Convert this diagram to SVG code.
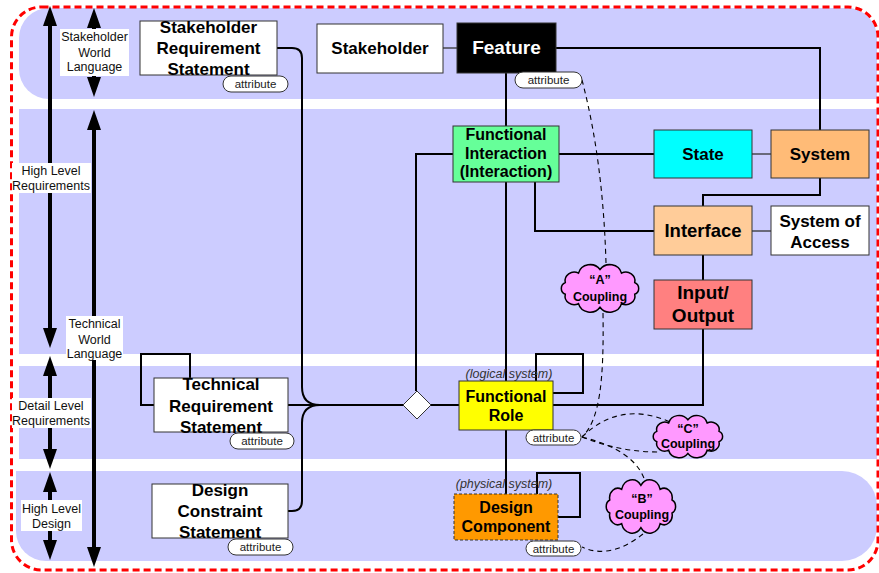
<svg xmlns="http://www.w3.org/2000/svg" xmlns:xlink="http://www.w3.org/1999/xlink" width="879" height="573" viewBox="0 0 879 573">
<style>
.band{fill:#CCCCFF}
.node{stroke:#333;stroke-width:1}
.t{font-family:"Liberation Sans",Arial,sans-serif;font-weight:bold;text-anchor:middle;fill:#000}
.lbl{font-family:"Liberation Sans",Arial,sans-serif;font-size:12.5px;text-anchor:middle;fill:#111}
.lblbox{fill:#fff}
.attr rect{fill:#fff;stroke:#333;stroke-width:1}
.attr text{font-family:"Liberation Sans",Arial,sans-serif;font-size:11.5px;text-anchor:middle;fill:#222}
.conn{fill:none;stroke:#000;stroke-width:2}
.thin{fill:none;stroke:#333;stroke-width:1.3}
.dash{fill:none;stroke:#000;stroke-width:1.1;stroke-dasharray:5 4}
.cloud{fill:#FF99FF;stroke:#000;stroke-width:1.5}
.ct{font-family:"Liberation Sans",Arial,sans-serif;font-weight:bold;font-size:12.5px;text-anchor:middle;fill:#000}
.sys{font-family:"Liberation Sans",Arial,sans-serif;font-style:italic;font-size:12.5px;text-anchor:middle;fill:#333}
.arr{stroke:#000;stroke-width:4;marker-start:url(#ah);marker-end:url(#ah)}
</style>
<defs>
<marker id="ah" viewBox="0 0 20 14" refX="10" refY="7" markerWidth="20" markerHeight="14" markerUnits="userSpaceOnUse" orient="auto-start-reverse"><path d="M0,0 L20,7 L0,14 Z" fill="#000"/></marker>
<path id="cloudp" vector-effect="non-scaling-stroke" d="M89.9,37.1 A10.5,10.5 0 0 1 74.7,48.6 A13.8,13.8 0 0 1 50,53 A13.8,13.8 0 0 1 25.3,48.6 A10.5,10.5 0 0 1 10.1,37.1 A7.8,7.8 0 0 1 10.1,22.9 A10.5,10.5 0 0 1 25.3,11.4 A13.8,13.8 0 0 1 50,7 A13.8,13.8 0 0 1 74.7,11.4 A10.5,10.5 0 0 1 89.9,22.9 A7.8,7.8 0 0 1 89.9,37.1 Z"/>
</defs>
<rect width="879" height="573" fill="#fff"/>
<g id="bands">
<path class="band" d="M49,8 H847 A30,30 0 0 1 877,38 V99 H49 A30,30 0 0 1 19,69 V38 A30,30 0 0 1 49,8 Z"/>
<rect class="band" x="19" y="109" width="858" height="245"/>
<rect class="band" x="19" y="366" width="858" height="93"/>
<path class="band" d="M16,471 H842 A35,35 0 0 1 877,506 V526 A35,35 0 0 1 842,561 H46 A30,30 0 0 1 16,531 Z"/>
</g>
<rect x="11.5" y="7" width="866.5" height="563" rx="30" fill="none" stroke="#FF0000" stroke-width="3" stroke-dasharray="7 4"/>
<g id="scale-arrows">
<line class="arr" x1="50" y1="16" x2="50" y2="338"/>
<line class="arr" x1="50" y1="366" x2="50" y2="459"/>
<line class="arr" x1="50" y1="482" x2="50" y2="550"/>
<line class="arr" x1="94" y1="18" x2="94" y2="87"/>
<line class="arr" x1="94" y1="120" x2="94" y2="557"/>
</g>
<g id="scale-labels">
<rect class="lblbox" x="60" y="29" width="69" height="47"/>
<text class="lbl" x="94.5" y="41">Stakeholder</text>
<text class="lbl" x="94.5" y="56.5">World</text>
<text class="lbl" x="94.5" y="71">Language</text>
<rect class="lblbox" x="12" y="163" width="79" height="30"/>
<text class="lbl" x="51" y="175">High Level</text>
<text class="lbl" x="51" y="190">Requirements</text>
<rect class="lblbox" x="66" y="316" width="57" height="44"/>
<text class="lbl" x="94.5" y="328">Technical</text>
<text class="lbl" x="94.5" y="343.5">World</text>
<text class="lbl" x="94.5" y="358">Language</text>
<rect class="lblbox" x="12" y="398" width="79" height="30"/>
<text class="lbl" x="51" y="409.5">Detail Level</text>
<text class="lbl" x="51" y="424.5">Requirements</text>
<rect class="lblbox" x="21" y="500" width="61" height="31"/>
<text class="lbl" x="51.5" y="513">High Level</text>
<text class="lbl" x="51.5" y="528">Design</text>
</g>
<g id="connectors">
<path class="conn" d="M277,48 H292 Q302,48 302,58 V387 Q302,405 320,405"/>
<path class="conn" d="M288,511 H292 Q302,511 302,501 V423 Q302,405 320,405"/>
<path class="conn" d="M288,405 H403"/>
<path class="conn" d="M431,405 H459"/>
<path class="conn" d="M416,391 V154 H453"/>
<path class="thin" d="M443,48 H457"/>
<path class="conn" d="M556,48 H820 V130"/>
<path class="conn" d="M506,73 V126"/>
<path class="conn" d="M506,182 V381"/>
<path class="conn" d="M506,430 V494"/>
<path class="conn" d="M559,154 H654"/>
<path class="thin" d="M752,154 H771"/>
<path class="conn" d="M820,178 V195 H703 V206"/>
<path class="conn" d="M535,182 V231 H654"/>
<path class="thin" d="M752,231 H771"/>
<path class="conn" d="M703,255 V280"/>
<path class="conn" d="M703,329 V405 H553"/>
<path class="conn" d="M553,393 H583 V354 H536 V381"/>
<path class="conn" d="M558,517 H580 V473 H537 V494"/>
<path class="conn" d="M154,405 H141 V354 H190 V378"/>
<path class="dash" d="M582,80 Q603,160 606,263"/>
<path class="dash" d="M603,313 C604,380 600,420 582,437"/>
<path class="dash" d="M582,437 Q620,400 670,422"/>
<path class="dash" d="M582,437 Q620,452 658,452"/>
<path class="dash" d="M582,437 Q635,450 645,481"/>
<path class="dash" d="M643,534 Q610,560 582,547"/>
</g>
<g id="diamond">
<path d="M417,391 L431,405 L417,419 L403,405 Z" fill="#fff" stroke="#333" stroke-width="1"/>
</g>
<g id="stakeholder-requirement-statement">
<rect class="node" x="140" y="21" width="137" height="54" fill="#fff"/>
<text class="t" x="208.5" y="33" font-size="17">Stakeholder</text>
<text class="t" x="208.5" y="54" font-size="17">Requirement</text>
<text class="t" x="208.5" y="75" font-size="17">Statement</text>
<g class="attr"><rect x="223" y="76" width="65" height="16" rx="8"/><text x="255.5" y="88">attribute</text></g>
</g>
<g id="stakeholder">
<rect class="node" x="317" y="24" width="126" height="49" fill="#fff"/>
<text class="t" x="380" y="54" font-size="17">Stakeholder</text>
</g>
<g id="feature">
<rect class="node" x="457" y="23" width="99" height="50" fill="#000"/>
<text class="t" x="506.5" y="54" font-size="19" style="fill:#fff">Feature</text>
<g class="attr"><rect x="515" y="72" width="67" height="16" rx="8"/><text x="548.5" y="84">attribute</text></g>
</g>
<g id="functional-interaction">
<rect class="node" x="453" y="126" width="106" height="56" fill="#66FF99"/>
<text class="t" x="506" y="140" font-size="16">Functional</text>
<text class="t" x="506" y="159" font-size="16">Interaction</text>
<text class="t" x="506" y="177" font-size="16">(Interaction)</text>
</g>
<g id="state">
<rect class="node" x="654" y="130" width="98" height="48" fill="#00FFFF"/>
<text class="t" x="703" y="160" font-size="17">State</text>
</g>
<g id="system">
<rect class="node" x="771" y="130" width="98" height="48" fill="#FFBB77"/>
<text class="t" x="820" y="160" font-size="17">System</text>
</g>
<g id="interface">
<rect class="node" x="654" y="206" width="98" height="49" fill="#FFCC99"/>
<text class="t" x="703" y="237" font-size="18.5">Interface</text>
</g>
<g id="system-of-access">
<rect class="node" x="771" y="206" width="98" height="49" fill="#fff"/>
<text class="t" x="820" y="227" font-size="17">System of</text>
<text class="t" x="820" y="248" font-size="17">Access</text>
</g>
<g id="input-output">
<rect class="node" x="654" y="280" width="98" height="49" fill="#FF8080"/>
<text class="t" x="703" y="299" font-size="19">Input/</text>
<text class="t" x="703" y="322" font-size="19">Output</text>
</g>
<g id="functional-role">
<text class="sys" x="509" y="378">(logical system)</text>
<rect class="node" x="459" y="381" width="94" height="49" fill="#FFFF00"/>
<text class="t" x="506" y="402" font-size="16">Functional</text>
<text class="t" x="506" y="421" font-size="16">Role</text>
<g class="attr"><rect x="526" y="430" width="55" height="15" rx="7.5"/><text x="553.5" y="441.5">attribute</text></g>
</g>
<g id="design-component">
<text class="sys" x="504" y="488">(physical system)</text>
<rect class="node" x="454" y="494" width="104" height="46" fill="#FF9900" stroke-dasharray="3 2"/>
<text class="t" x="506" y="513" font-size="16">Design</text>
<text class="t" x="506" y="532" font-size="16">Component</text>
<g class="attr"><rect x="526" y="541" width="55" height="15" rx="7.5"/><text x="553.5" y="552.5">attribute</text></g>
</g>
<g id="technical-requirement-statement">
<rect class="node" x="154" y="378" width="134" height="54" fill="#fff"/>
<text class="t" x="221" y="390" font-size="17">Technical</text>
<text class="t" x="221" y="412" font-size="17">Requirement</text>
<text class="t" x="221" y="433" font-size="17">Statement</text>
<g class="attr"><rect x="230" y="433" width="64" height="16" rx="8"/><text x="262" y="445">attribute</text></g>
</g>
<g id="design-constraint-statement">
<rect class="node" x="152" y="484" width="136" height="54" fill="#fff"/>
<text class="t" x="220" y="496" font-size="17">Design</text>
<text class="t" x="220" y="517" font-size="17">Constraint</text>
<text class="t" x="220" y="538" font-size="17">Statement</text>
<g class="attr"><rect x="228" y="539" width="65" height="16" rx="8"/><text x="260.5" y="551">attribute</text></g>
</g>
<g id="a-coupling">
<use xlink:href="#cloudp" class="cloud" transform="translate(556.5,263.8) scale(0.87,0.82)"/>
<text class="ct" x="600" y="284">“A”</text>
<text class="ct" x="600" y="301">Coupling</text>
</g>
<g id="c-coupling">
<use xlink:href="#cloudp" class="cloud" transform="translate(648.9,414.7) scale(0.78,0.73)"/>
<text class="ct" x="688" y="433">“C”</text>
<text class="ct" x="688" y="448">Coupling</text>
</g>
<g id="b-coupling">
<use xlink:href="#cloudp" class="cloud" transform="translate(601.9,478.9) scale(0.78,0.92)"/>
<text class="ct" x="642" y="503">“B”</text>
<text class="ct" x="642" y="519">Coupling</text>
</g>
</svg>
